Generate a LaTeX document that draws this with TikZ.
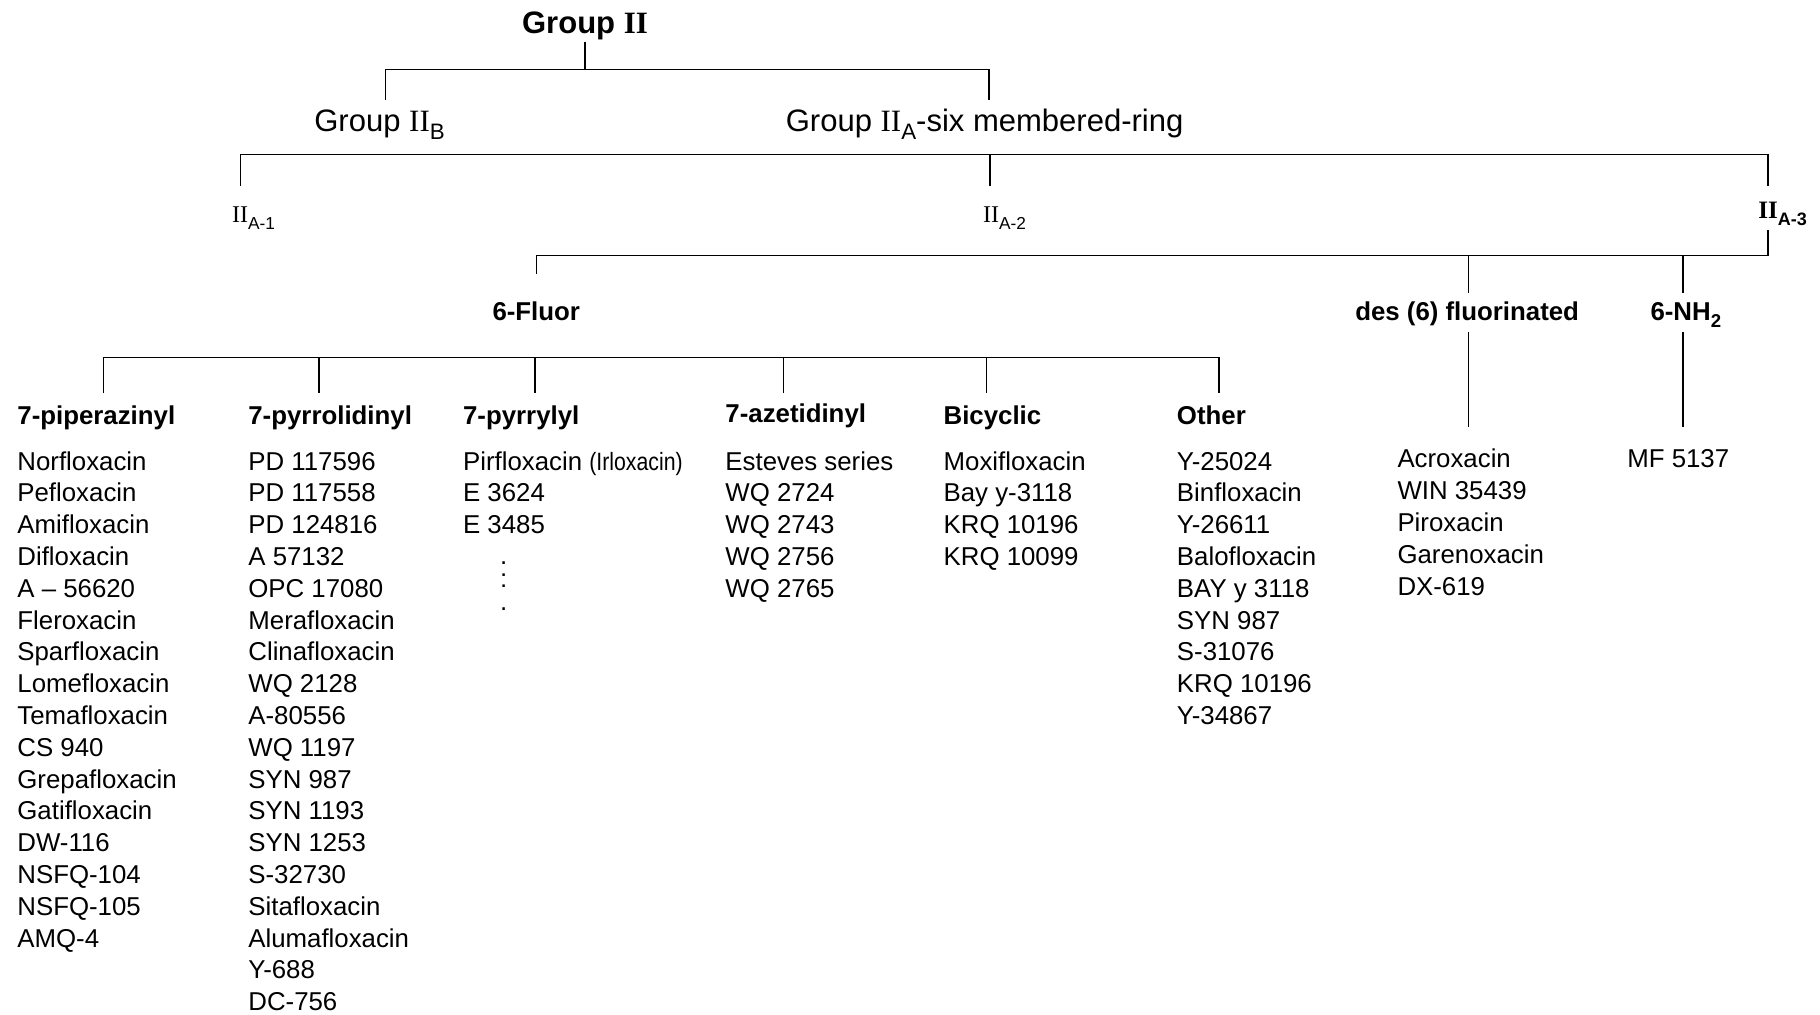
\documentclass[tikz,border=0pt]{standalone}
\usepackage{fontspec}
\usepackage{graphicx}
\setmainfont{Liberation Sans}
\newfontfamily\serifII{Liberation Serif}
\newfontfamily\narrowfont[FakeStretch=0.85]{Liberation Sans}
\newcommand\dnsub[1]{\raisebox{-0.28em}{\scalebox{0.72}{#1}}}
\begin{document}
\begin{tikzpicture}[x=0.58pt,y=-0.58pt,
  tree/.style={line width=0.75pt, draw=black},
  lab/.style={inner sep=0pt, outer sep=0pt},
  big/.style={lab, font=\fontsize{15.5}{18}\selectfont, text height=15.66pt, text depth=4pt},
  bigb/.style={lab, font=\bfseries\fontsize{15.5}{18}\selectfont, text height=12pt, text depth=4.06pt},
  hdr/.style={lab, anchor=base west, font=\bfseries\fontsize{12.9}{15}\selectfont, text height=15.66pt, text depth=3pt},
  mid/.style={lab, anchor=base, font=\bfseries\fontsize{12.9}{15}\selectfont},
  itm/.style={lab, anchor=base west, font=\fontsize{12.9}{15}\selectfont},
  subl/.style={lab, anchor=base west, font=\fontsize{12}{14}\selectfont, text height=18.56pt, text depth=3pt},
  sublb/.style={lab, anchor=base west, font=\bfseries\fontsize{12.5}{14}\selectfont, text height=16.24pt, text depth=5.8pt}
]
\useasboundingbox (0,0) rectangle (1568,874);

% ---- top levels
\node[bigb, anchor=base] (g2) at (504,29) {Group {\serifII II}};
\node[big, anchor=base] (g2b) at (327,113) {Group {\serifII II}\dnsub{B}};
\node[big, anchor=base west] (g2a) at (677,113) {Group {\serifII II}\dnsub{A}-six membered-ring};

\coordinate (j0) at (504,60);
\coordinate (jB) at (332,60);
\coordinate (jA) at (852,60);
\draw[tree] (g2.south) -- (j0);
\draw[tree] (jB |- g2b.north) -- (jB) -- (jA) -- (jA |- g2a.north);

% ---- II_A-1 .. II_A-3
\node[subl] (a1) at (200,192) {{\serifII II}\dnsub{A-1}};
\node[subl] (a2) at (847,192) {{\serifII II}\dnsub{A-2}};
\node[sublb] (a3) at (1515,188) {{\serifII\bfseries II}\dnsub{A-3}};

\coordinate (k1) at (207,133);
\coordinate (k2) at (853,133);
\coordinate (k3) at (1523,133);
\draw[tree] (k1 |- a1.north) -- (k1) -- (k3) -- (k3 |- a3.north);
\draw[tree] (k2) -- (k2 |- a2.north);

% ---- third level
\node[mid, text height=23.2pt] (fl) at (462,276) {6-Fluor};
\node[mid, text height=13.92pt, text depth=5.8pt] (df) at (1264,276) {des (6) fluorinated};
\node[mid, anchor=base west, text height=13.92pt, text depth=5.8pt] (nh) at (1422,276) {6-NH\dnsub{2}};

\coordinate (m0) at (1523,220);
\coordinate (m1) at (462,220);
\coordinate (m2) at (1265,220);
\coordinate (m3) at (1450,220);
\draw[tree] (m0 |- a3.south) -- (m0) -- (m1) -- (m1 |- fl.north);
\draw[tree] (m2) -- (m2 |- df.north);
\draw[tree] (m3) -- (m3 |- nh.north);

\coordinate (e2) at (1265,368);
\coordinate (e3) at (1450,368);
\draw[tree] (m2 |- df.south) -- (e2);
\draw[tree] (m3 |- nh.south) -- (e3);

% ---- headers
\node[hdr] (h1) at (15,366) {7-piperazinyl};
\node[hdr] (h2) at (214,366) {7-pyrrolidinyl};
\node[hdr] (h3) at (399,366) {7-pyrrylyl};
\node[hdr, text height=14.5pt] (h4) at (625,364) {7-azetidinyl};
\node[hdr] (h5) at (813,366) {Bicyclic};
\node[hdr] (h6) at (1014,366) {Other};

\coordinate (n1) at (89,308);
\coordinate (n2) at (275,308);
\coordinate (n3) at (461,308);
\coordinate (n4) at (675,308);
\coordinate (n5) at (850,308);
\coordinate (n6) at (1050,308);
\draw[tree] (n1 |- h1.north) -- (n1) -- (n6) -- (n6 |- h6.north);
\draw[tree] (n2) -- (n2 |- h2.north);
\draw[tree] (n3) -- (n3 |- h3.north);
\draw[tree] (n4) -- (n4 |- h4.north);
\draw[tree] (n5) -- (n5 |- h5.north);

% ---- lists
\foreach \t [count=\i] in {Norfloxacin, Pefloxacin, Amifloxacin, Difloxacin, A – 56620, Fleroxacin, Sparfloxacin, Lomefloxacin, Temafloxacin, CS 940, Grepafloxacin, Gatifloxacin, DW-116, NSFQ-104, NSFQ-105, AMQ-4}
  \node[itm] (pip\i) at (15,{405+27.4*(\i-1)}) {\t};

\foreach \t [count=\i] in {PD 117596, PD 117558, PD 124816, A 57132, OPC 17080, Merafloxacin, Clinafloxacin, WQ 2128, A-80556, WQ 1197, SYN 987, SYN 1193, SYN 1253, S-32730, Sitafloxacin, Alumafloxacin, Y-688, DC-756}
  \node[itm] (pyr\i) at (214,{405+27.4*(\i-1)}) {\t};

\foreach \t [count=\i] in {{Pirfloxacin {\narrowfont\fontsize{12.5}{14}\selectfont (Irloxacin)}}, E 3624, E 3485}
  \node[itm] (pyl\i) at (399,{405+27.4*(\i-1)}) {\t};
\node[lab, align=center, font=\fontsize{12.9}{11.6}\selectfont] (dots) at (434,505) {.\\:\\.};

\foreach \t [count=\i] in {Esteves series, WQ 2724, WQ 2743, WQ 2756, WQ 2765}
  \node[itm] (aze\i) at (625,{405+27.4*(\i-1)}) {\t};

\foreach \t [count=\i] in {Moxifloxacin, Bay y-3118, KRQ 10196, KRQ 10099}
  \node[itm] (bic\i) at (813,{405+27.4*(\i-1)}) {\t};

\foreach \t [count=\i] in {Y-25024, Binfloxacin, Y-26611, Balofloxacin, BAY y 3118, SYN 987, S-31076, KRQ 10196, Y-34867}
  \node[itm] (oth\i) at (1014,{405+27.4*(\i-1)}) {\t};

\foreach \t [count=\i] in {Acroxacin, WIN 35439, Piroxacin, Garenoxacin, DX-619}
  \node[itm] (des\i) at (1204,{403+27.6*(\i-1)}) {\t};

\node[itm] (mf1) at (1402,403) {MF 5137};
\end{tikzpicture}
\end{document}
